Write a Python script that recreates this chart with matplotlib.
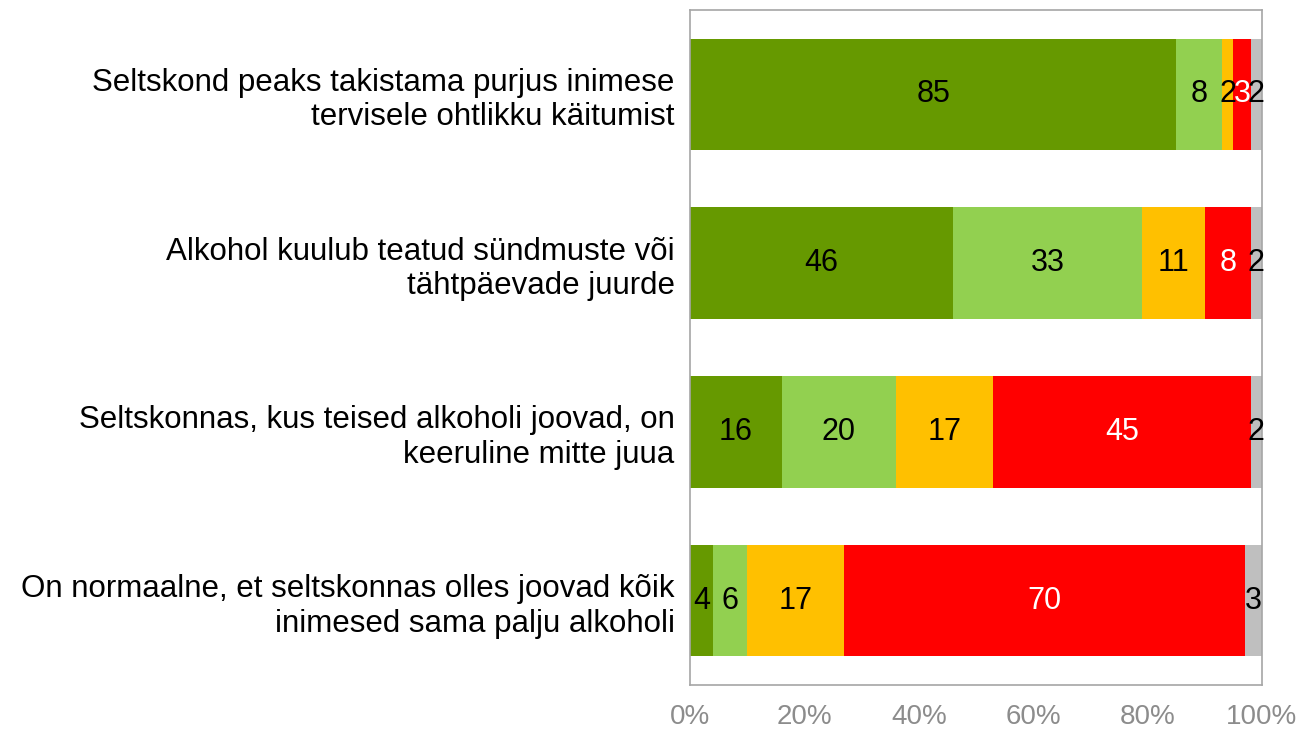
import matplotlib
matplotlib.use("Agg")
import matplotlib.pyplot as plt
import numpy as np

plt.rcParams['font.family'] = ['Liberation Sans', 'DejaVu Sans']

categories = [
    "Seltskond peaks takistama purjus inimese\ntervisele ohtlikku käitumist",
    "Alkohol kuulub teatud sündmuste või\ntähtpäevade juurde",
    "Seltskonnas, kus teised alkoholi joovad, on\nkeeruline mitte juua",
    "On normaalne, et seltskonnas olles joovad kõik\ninimesed sama palju alkoholi",
]
s1 = [85, 46, 16, 4]
s2 = [8, 33, 20, 6]
s3 = [2, 11, 17, 17]
s4 = [3, 8, 45, 70]
s5 = [2, 2, 2, 3]
series = [s1, s2, s3, s4, s5]
colors = ["#669900", "#92D050", "#FFC000", "#FF0000", "#BFBFBF"]
text_colors = ["black", "black", "black", "white", "black"]
xticks = [0, 20, 40, 60, 80, 100]
xticklabels = ["0%", "20%", "40%", "60%", "80%", "100%"]

fig = plt.figure(figsize=(12.99, 7.31), dpi=100)
ax = fig.add_axes([690/1299, 1-685/731, 572/1299, 675/731])

y = np.arange(len(categories))
left = np.zeros(len(categories))
for vals, c, tc in zip(series, colors, text_colors):
    vals = np.array(vals, dtype=float)
    ax.barh(y, vals, left=left, color=c, height=0.66, edgecolor='none')
    for yi, l, v in zip(y, left, vals):
        ax.text(l + v/2, yi, f"{int(v)}", ha='center', va='center', fontsize=22, color=tc)
    left += vals

ax.set_xlim(0, 100)
ax.set_ylim(3.5, -0.5)
ax.set_yticks(y)
ax.set_yticklabels(categories, fontsize=22.5, ha='right', linespacing=1.2)
ax.set_xticks(xticks)
ax.set_xticklabels(xticklabels, fontsize=20, color='#8C8C8C')
ax.tick_params(axis='both', length=0)
ax.tick_params(axis='x', pad=14)
ax.tick_params(axis='y', pad=11)
for sp in ax.spines.values():
    sp.set_color('#A6A6A6')
    sp.set_linewidth(1.2)

fig.savefig("out.png", dpi=100)
